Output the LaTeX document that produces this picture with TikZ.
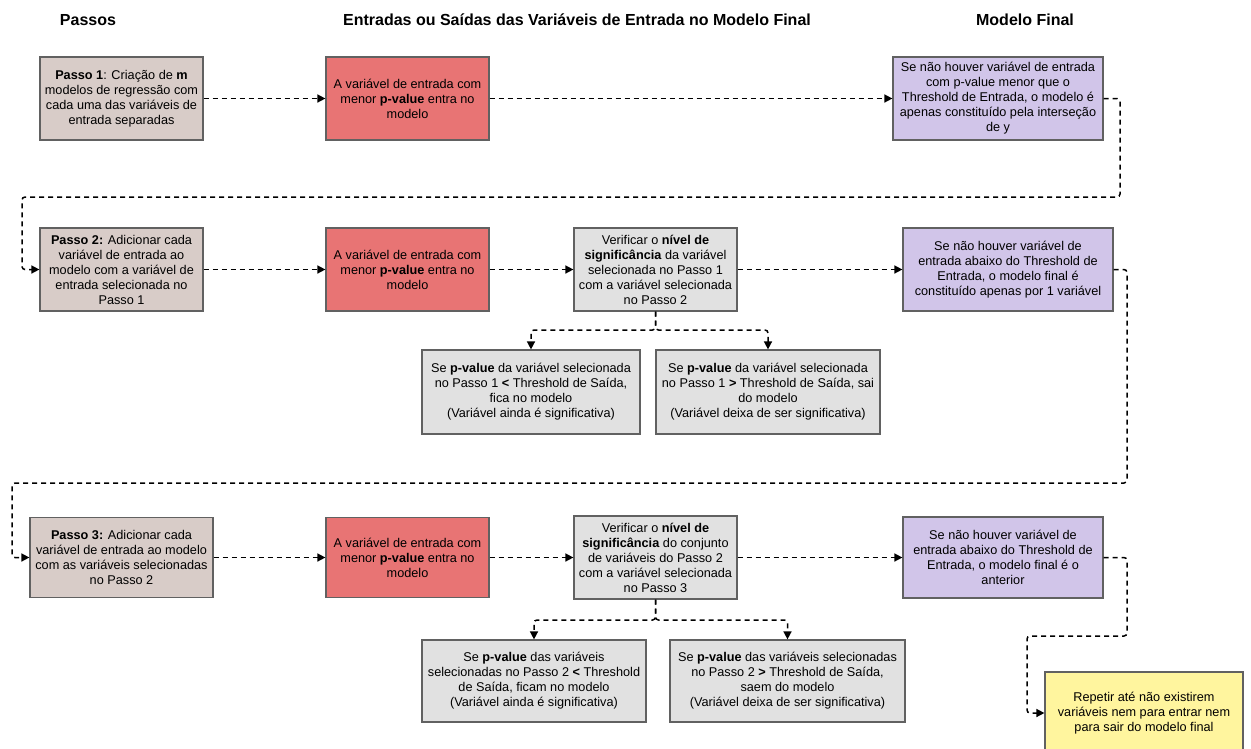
\documentclass[tikz,border=0pt]{standalone}
\usepackage{fontspec}
\setmainfont{Liberation Sans}
\usetikzlibrary{arrows.meta}
\definecolor{passo}{HTML}{D8CCC8}
\definecolor{entra}{HTML}{E87474}
\definecolor{final}{HTML}{D1C5E9}
\definecolor{verif}{HTML}{E1E1E1}
\definecolor{repete}{HTML}{FFF59E}

\begin{document}
\begin{tikzpicture}[x=1pt,y=-1pt,font=\fontsize{12.7}{15}\selectfont,>={Triangle[length=8pt,width=8pt]},
  bx/.style={draw=black!62,line width=1.2pt,align=center,inner sep=2pt,minimum width=163pt,minimum height=83pt},
  hd/.style={font=\fontsize{16}{18}\selectfont\bfseries},
  lk/.style={->,dash pattern=on 5pt off 4pt,line width=1.5pt,rounded corners=3pt}]
  \useasboundingbox (0,0) rectangle (1251,748);
  \node[hd] (h1) at (88,20) {Passos};
  \node[hd] (h2) at (577,20) {Entradas ou Saídas das Variáveis de Entrada no Modelo Final};
  \node[hd] (h3) at (1025,20) {Modelo Final};
  \node[bx,fill=passo] (p1) at (121.5,98.5) {\textbf{Passo 1}: Criação de \textbf{m}\\modelos de regressão com\\cada uma das variáveis de\\entrada separadas};
  \node[bx,fill=entra] (e1) at (407.5,98.5) {A variável de entrada com\\menor \textbf{p-value} entra no\\modelo};
  \node[bx,fill=final,minimum width=210pt] (f1) at (998,98.5) {Se não houver variável de entrada\\com p-value menor que o\\Threshold de Entrada, o modelo é\\apenas constituído pela interseção\\de y};
  \node[bx,fill=passo] (p2) at (121.5,269.5) {\textbf{Passo 2:} Adicionar cada\\variável de entrada ao\\modelo com a variável de\\entrada selecionada no\\Passo 1};
  \node[bx,fill=entra] (e2) at (407.5,269.5) {A variável de entrada com\\menor \textbf{p-value} entra no\\modelo};
  \node[bx,fill=verif] (v2) at (655.5,269.5) {Verificar o \textbf{nível de}\\\textbf{significância} da variável\\selecionada no Passo 1\\com a variável selecionada\\no Passo 2};
  \node[bx,fill=final,minimum width=210pt] (f2) at (1008,269.5) {Se não houver variável de\\entrada abaixo do Threshold de\\Entrada, o modelo final é\\constituído apenas por 1 variável};
  \node[bx,fill=verif,minimum width=218pt,minimum height=84pt] (s21) at (531,392) {Se \textbf{p-value} da variável selecionada\\no Passo 1 \textbf{<} Threshold de Saída,\\fica no modelo\\(Variável ainda é significativa)};
  \node[bx,fill=verif,minimum width=224pt,minimum height=84pt] (s22) at (768,392) {Se \textbf{p-value} da variável selecionada\\no Passo 1 \textbf{>} Threshold de Saída, sai\\do modelo\\(Variável deixa de ser significativa)};
  \node[bx,fill=passo,minimum width=183pt,minimum height=80pt] (p3) at (121.5,557.5) {\textbf{Passo 3:} Adicionar cada\\variável de entrada ao modelo\\com as variáveis selecionadas\\no Passo 2};
  \node[bx,fill=entra,minimum height=80pt] (e3) at (407.5,557.5) {A variável de entrada com\\menor \textbf{p-value} entra no\\modelo};
  \node[bx,fill=verif] (v3) at (655.5,557.5) {Verificar o \textbf{nível de}\\\textbf{significância} do conjunto\\de variáveis do Passo 2\\com a variável selecionada\\no Passo 3};
  \node[bx,fill=final,minimum width=200pt,minimum height=81pt] (f3) at (1003,557.5) {Se não houver variável de\\entrada abaixo do Threshold de\\Entrada, o modelo final é o\\anterior};
  \node[bx,fill=verif,minimum width=224pt,minimum height=82pt] (s31) at (534,681) {Se \textbf{p-value} das variáveis\\selecionadas no Passo 2 \textbf{<} Threshold\\de Saída, ficam no modelo\\(Variável ainda é significativa)};
  \node[bx,fill=verif,minimum width=235pt,minimum height=82pt] (s32) at (787.5,681) {Se \textbf{p-value} das variáveis selecionadas\\no Passo 2 \textbf{>} Threshold de Saída,\\saem do modelo\\(Variável deixa de ser significativa)};
  \node[bx,fill=repete,minimum width=198pt,minimum height=82pt] (rp) at (1144,713) {Repetir até não existirem\\variáveis nem para entrar nem\\para sair do modelo final};
  \coordinate (r1) at (1120,197);
  \coordinate (l1) at (22,197);
  \coordinate (r2) at (1127,483);
  \coordinate (l2) at (12,483);
  \coordinate (r3) at (1127,636);
  \coordinate (l3) at (1027,636);
  \coordinate (k2) at (655.5,330);
  \coordinate (k3) at (655.5,620);
  \foreach \a/\b in {p1/e1,e1/f1,p2/e2,e2/v2,v2/f2,p3/e3,e3/v3,v3/f3} \draw[lk] (\a.east)--(\b.west);
  \draw[lk] (f1.east) -| (r1) -- (l1) |- (p2.west);
  \draw[lk] (f2.east) -| (r2) -- (l2) |- (p3.west);
  \draw[lk] (f3.east) -| (r3) -- (l3) |- (rp.west);
  \foreach \s in {s21,s22} \draw[lk] (v2.south) -- (k2) -| (\s.north);
  \foreach \s in {s31,s32} \draw[lk] (v3.south) -- (k3) -| (\s.north);
\end{tikzpicture}
\end{document}
